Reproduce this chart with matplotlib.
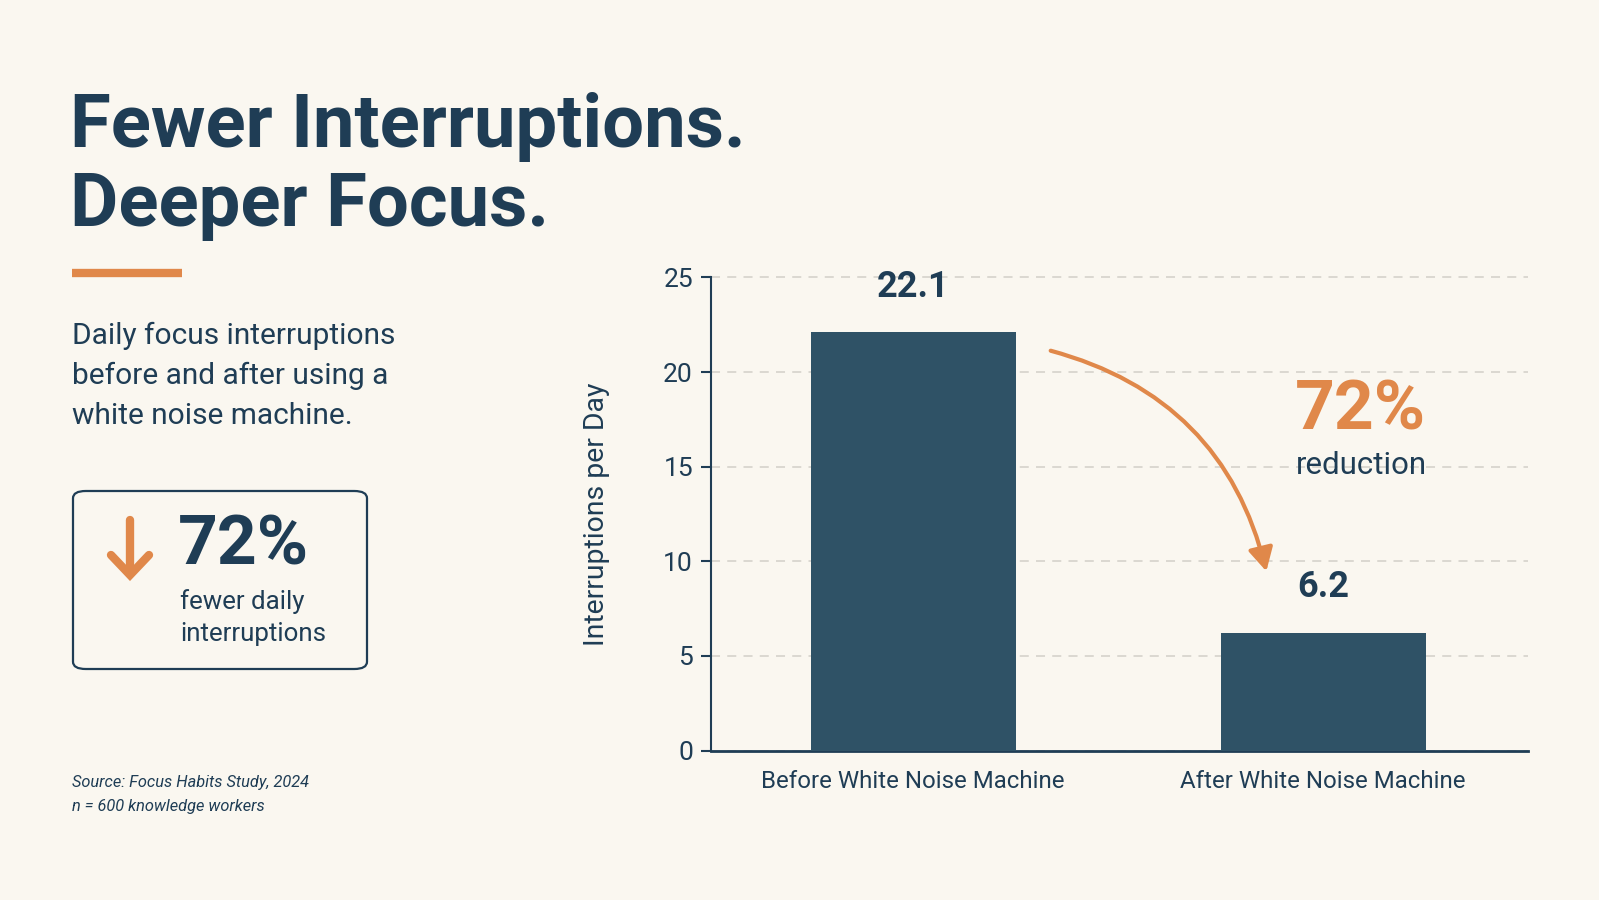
import matplotlib
matplotlib.use("Agg")
import matplotlib.pyplot as plt
from matplotlib.patches import FancyBboxPatch, FancyArrowPatch
from matplotlib.lines import Line2D

# ---- data ----
categories = ["Before White Noise Machine", "After White Noise Machine"]
values = [22.1, 6.2]
value_labels = ["22.1", "6.2"]
yticks = [0, 5, 10, 15, 20, 25]
reduction_pct = "72%"

BG = "#faf7f0"
NAVY = "#1f3d55"
BAR = "#2f5266"
ORANGE = "#e0884a"
GRID = "#d8d5ce"

plt.rcParams['font.family'] = ['Roboto', 'DejaVu Sans']

W, H = 1599, 900
fig = plt.figure(figsize=(W / 100, H / 100), dpi=100, facecolor=BG)

def fx(px):
    return px / W

def fy(py):
    return 1 - py / H

# Title
fig.text(fx(70), fy(147), "Fewer Interruptions.", fontsize=53.5, fontweight='bold',
         color=NAVY, va='baseline', ha='left')
fig.text(fx(70), fy(226), "Deeper Focus.", fontsize=53.5, fontweight='bold',
         color=NAVY, va='baseline', ha='left')

# orange rule
fig.add_artist(Line2D([fx(72), fx(182)], [fy(273), fy(273)], color=ORANGE,
                      linewidth=6, solid_capstyle='butt'))

# subtitle
for i, line in enumerate(["Daily focus interruptions", "before and after using a",
                          "white noise machine."]):
    fig.text(fx(72), fy(336 + i * 40), line, fontsize=21.5, color=NAVY,
             va='center', ha='left')

# stat box
box = FancyBboxPatch((fx(73), fy(669)), fx(367) - fx(73), fy(491) - fy(669),
                     boxstyle="round,pad=0,rounding_size=0.008",
                     transform=fig.transFigure, facecolor=BG, edgecolor=NAVY,
                     linewidth=1.6)
fig.add_artist(box)

# down arrow in box
fig.add_artist(Line2D([fx(130), fx(130)], [fy(520), fy(572)], color=ORANGE,
                      linewidth=6, solid_capstyle='round'))
fig.add_artist(Line2D([fx(111), fx(130), fx(149)], [fy(555), fy(575), fy(555)],
                      color=ORANGE, linewidth=6, solid_capstyle='round',
                      solid_joinstyle='miter'))

fig.text(fx(178), fy(546), reduction_pct, fontsize=50, fontweight='bold',
         color=NAVY, va='center', ha='left')
fig.text(fx(180), fy(602), "fewer daily", fontsize=18.6, color=NAVY,
         va='center', ha='left')
fig.text(fx(180), fy(634), "interruptions", fontsize=18.6, color=NAVY,
         va='center', ha='left')

# source
fig.text(fx(72), fy(783), "Source: Focus Habits Study, 2024", fontsize=11.8,
         style='italic', color=NAVY, va='center', ha='left')
fig.text(fx(72), fy(807), "n = 600 knowledge workers", fontsize=11.8,
         style='italic', color=NAVY, va='center', ha='left')

# ---- chart ----
ax = fig.add_axes([fx(711), fy(750.5), fx(1528) - fx(711), fy(277.5) - fy(750.5)])
ax.set_facecolor(BG)
x = list(range(len(categories)))
ax.bar(x, values, width=0.5, color=BAR, zorder=3)
ax.set_xlim(-0.493, 1.5)
ax.set_ylim(0, 25)
ax.set_yticks(yticks)
ax.set_xticks(x)
ax.set_xticklabels(categories, fontsize=17.3, color=NAVY)
ax.tick_params(axis='x', length=0, pad=14)
ax.tick_params(axis='y', length=7, width=1.5, color=NAVY, labelsize=19,
               labelcolor=NAVY, pad=6)
ax.yaxis.grid(True, linestyle=(0, (5, 4)), color=GRID, linewidth=1.3, zorder=0)
for gl in ax.get_ygridlines():
    gl.set_clip_on(False)
ax.set_axisbelow(True)
for s in ['top', 'right']:
    ax.spines[s].set_visible(False)
ax.spines['left'].set_color(NAVY)
ax.spines['left'].set_linewidth(1.5)
ax.spines['bottom'].set_color(NAVY)
ax.spines['bottom'].set_linewidth(2)
ax.set_ylabel("Interruptions per Day", fontsize=20.4, color=NAVY, labelpad=38)

for xi, v, lab in zip(x, values, value_labels):
    ax.annotate(lab, (xi, v), xytext=(0, 33), textcoords='offset points',
                ha='center', va='center', fontsize=26, fontweight='bold',
                color=NAVY)

# curved arrow
arrow = FancyArrowPatch((fx(1048), fy(350)), (fx(1267), fy(574)),
                        transform=fig.transFigure,
                        connectionstyle="arc3,rad=-0.3",
                        arrowstyle="-|>,head_length=14,head_width=7.5",
                        color=ORANGE, linewidth=3)
fig.add_artist(arrow)

fig.text(fx(1295), fy(411), reduction_pct, fontsize=50, fontweight='bold',
         color=ORANGE, va='center', ha='left')
fig.text(fx(1296), fy(465), "reduction", fontsize=22.5, color=NAVY,
         va='center', ha='left')

fig.savefig("out.png", dpi=100, facecolor=BG)
